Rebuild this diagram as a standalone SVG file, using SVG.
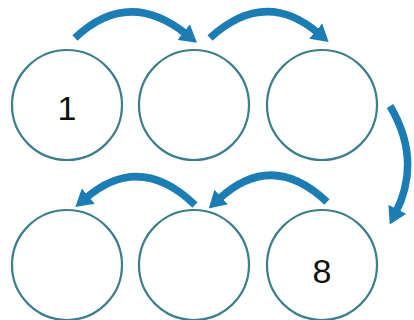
<svg xmlns="http://www.w3.org/2000/svg" width="414" height="320" viewBox="0 0 414 320">
<style>
.c{fill:#fff;stroke:#3d7d8c;stroke-width:2.2}
.a{fill:none;stroke:#1b7db3;stroke-width:7.5;stroke-linecap:butt}
.t{font-family:"Liberation Sans",Arial,sans-serif;font-size:34px;fill:#111;text-anchor:middle}
</style>
<defs>
<marker id="ah" markerUnits="userSpaceOnUse" viewBox="0 0 17 20" refX="3" refY="10" markerWidth="17" markerHeight="20" orient="auto">
<path d="M0,0 L17,10 L0,20 z" fill="#1b7db3"/>
</marker>
</defs>
<rect width="414" height="320" fill="#fff"/>
<g id="n1"><circle class="c" cx="67" cy="105" r="55"/><text class="t" x="67" y="120">1</text></g>
<g id="n2"><circle class="c" cx="194" cy="105" r="55"/></g>
<g id="n3"><circle class="c" cx="322" cy="105" r="55"/></g>
<g id="n4"><circle class="c" cx="67" cy="265" r="55"/></g>
<g id="n5"><circle class="c" cx="194" cy="265" r="55"/></g>
<g id="n6"><circle class="c" cx="322" cy="265" r="55"/><text class="t" x="322" y="283">8</text></g>
<g id="connectors">
<path class="a" marker-end="url(#ah)" d="M75,38 Q128,-12 186,34"/>
<path class="a" marker-end="url(#ah)" d="M210,38 Q265,-12 318,33"/>
<path class="a" marker-end="url(#ah)" d="M390,106 Q422,160 396,212"/>
<path class="a" marker-end="url(#ah)" d="M327,202 Q272,150 219,199"/>
<path class="a" marker-end="url(#ah)" d="M195,205 Q140,152 86,198"/>
</g>
</svg>
